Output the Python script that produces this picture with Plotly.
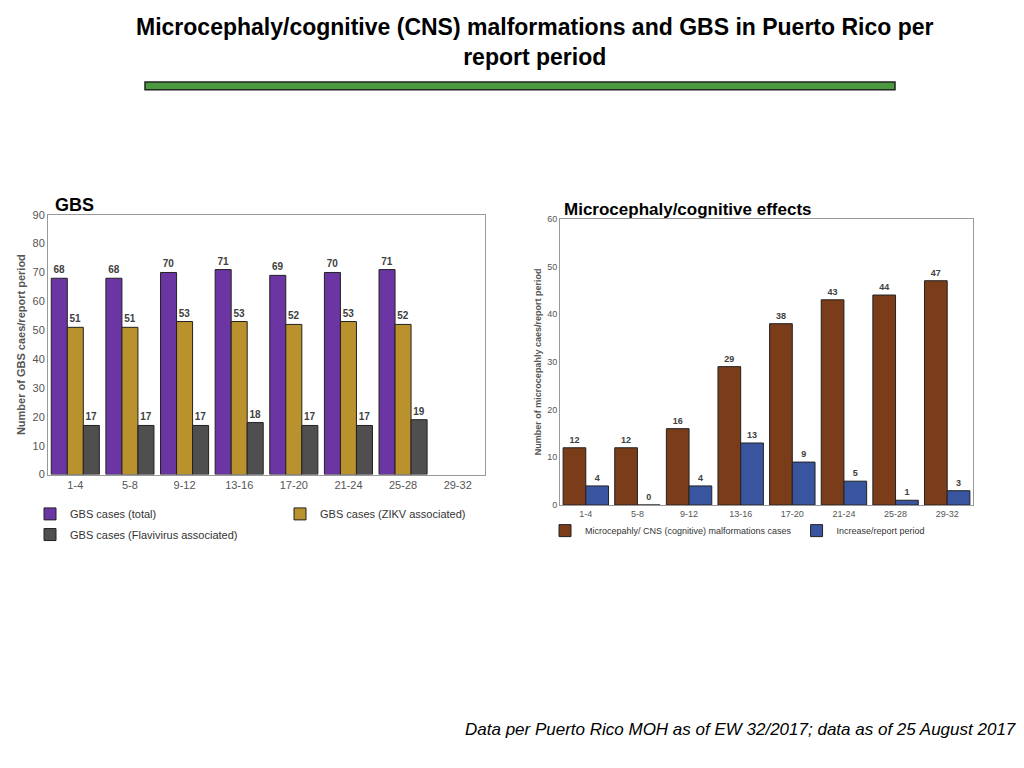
import plotly.graph_objects as go

periods = ["1-4", "5-8", "9-12", "13-16", "17-20", "21-24", "25-28", "29-32"]
gbs_total = [68, 68, 70, 71, 69, 70, 71, None]
gbs_zikv = [51, 51, 53, 53, 52, 53, 52, None]
gbs_flavi = [17, 17, 17, 18, 17, 17, 19, None]
micro_cases = [12, 12, 16, 29, 38, 43, 44, 47]
micro_increase = [4, 0, 4, 13, 9, 5, 1, 3]

# page body has an 8px margin, so figure is 1008x752 and coords are offset
W, H = 1008, 752
def px(x): return (x - 8) / W
def py(y): return 1 - (y - 8) / H

fig = go.Figure()
lab = dict(size=10, color="#404040", family="Liberation Sans")
line = dict(color="#222", width=1)

for name, vals, col, lg in [("GBS cases (total)", gbs_total, "#6b36a3", "legend"),
                            ("GBS cases (ZIKV associated)", gbs_zikv, "#b9922e", "legend"),
                            ("GBS cases (Flavivirus associated)", gbs_flavi, "#4f4f4f", "legend3")]:
    fig.add_trace(go.Bar(x=periods, y=vals, name=name, marker=dict(color=col, line=line),
                         text=[f"<b>{v}</b>" if v is not None else "" for v in vals],
                         textposition="outside", textfont=lab, cliponaxis=False,
                         xaxis="x", yaxis="y", legend=lg))

for name, vals, col in [("Microcepahly/ CNS (cognitive) malformations cases", micro_cases, "#7a3c19"),
                        ("Increase/report period", micro_increase, "#3a55a0")]:
    fig.add_trace(go.Bar(x=periods, y=vals, name=name, marker=dict(color=col, line=line),
                         text=[f"<b>{v}</b>" for v in vals], textposition="outside",
                         textfont=dict(size=9, color="#404040", family="Liberation Sans"),
                         cliponaxis=False, xaxis="x2", yaxis="y2", legend="legend2"))

ax = dict(showline=True, linecolor="#999", mirror=True, ticks="", showgrid=False,
          tickfont=dict(size=11, color="#555", family="Liberation Sans"))
leg = dict(orientation="h", xanchor="left", yanchor="middle", itemwidth=30,
           bgcolor="rgba(0,0,0,0)", tracegroupgap=0)
fig.update_layout(
    width=W, height=H, margin=dict(l=0, r=0, t=0, b=0),
    plot_bgcolor="white", paper_bgcolor="white", barmode="group",
    bargap=0.12, bargroupgap=0.0,
    font=dict(family="Liberation Sans"),
    xaxis=dict(domain=[px(48), px(485)], anchor="y", **ax),
    yaxis=dict(domain=[py(476), py(212)], anchor="x", range=[0, 90], dtick=10,
               title=dict(text="<b>Number of GBS caes/report period</b>", font=dict(size=11, color="#555"), standoff=4),
               **ax),
    xaxis2=dict(domain=[px(560), px(973)], anchor="y2", **{**ax, "tickfont": dict(size=9, color="#555")}),
    yaxis2=dict(domain=[py(507), py(216)], anchor="x2", range=[0, 60], dtick=10,
                title=dict(text="<b>Number of microcepahly caes/report period</b>", font=dict(size=9, color="#555"), standoff=4),
                **{**ax, "tickfont": dict(size=9, color="#555")}),
    legend=dict(x=px(30), y=py(516), entrywidth=205, entrywidthmode="pixels",
                font=dict(size=11, color="#333"), **leg),
    legend3=dict(x=px(30), y=py(537), font=dict(size=11, color="#333"), **leg),
    legend2=dict(x=px(545), y=py(533), font=dict(size=9, color="#333"), **leg),
    shapes=[dict(type="rect", xref="paper", yref="paper", x0=px(145), x1=px(895),
                 y0=py(85), y1=py(77), fillcolor="#4a9a3f", line=dict(color="#222", width=1.5))],
    annotations=[
        dict(text="<b>Microcephaly/cognitive (CNS) malformations and GBS in Puerto Rico per<br>report period</b>",
             x=px(535), y=py(6), xref="paper", yref="paper", xanchor="center", yanchor="top",
             showarrow=False, font=dict(size=23, color="black")),
        dict(text="<b>GBS</b>", x=px(53), y=py(190), xref="paper", yref="paper", xanchor="left",
             showarrow=False, font=dict(size=18, color="black")),
        dict(text="<b>Microcephaly/cognitive effects</b>", x=px(562), y=py(195), xref="paper", yref="paper",
             xanchor="left", showarrow=False, font=dict(size=17, color="black")),
        dict(text="<i>Data per Puerto Rico MOH as of EW 32/2017; data as of 25 August 2017</i>",
             x=px(1018), y=py(747), xref="paper", yref="paper", xanchor="right", showarrow=False,
             font=dict(size=17, color="black", family="Liberation Sans")),
    ],
)
fig.write_html("out.html")
